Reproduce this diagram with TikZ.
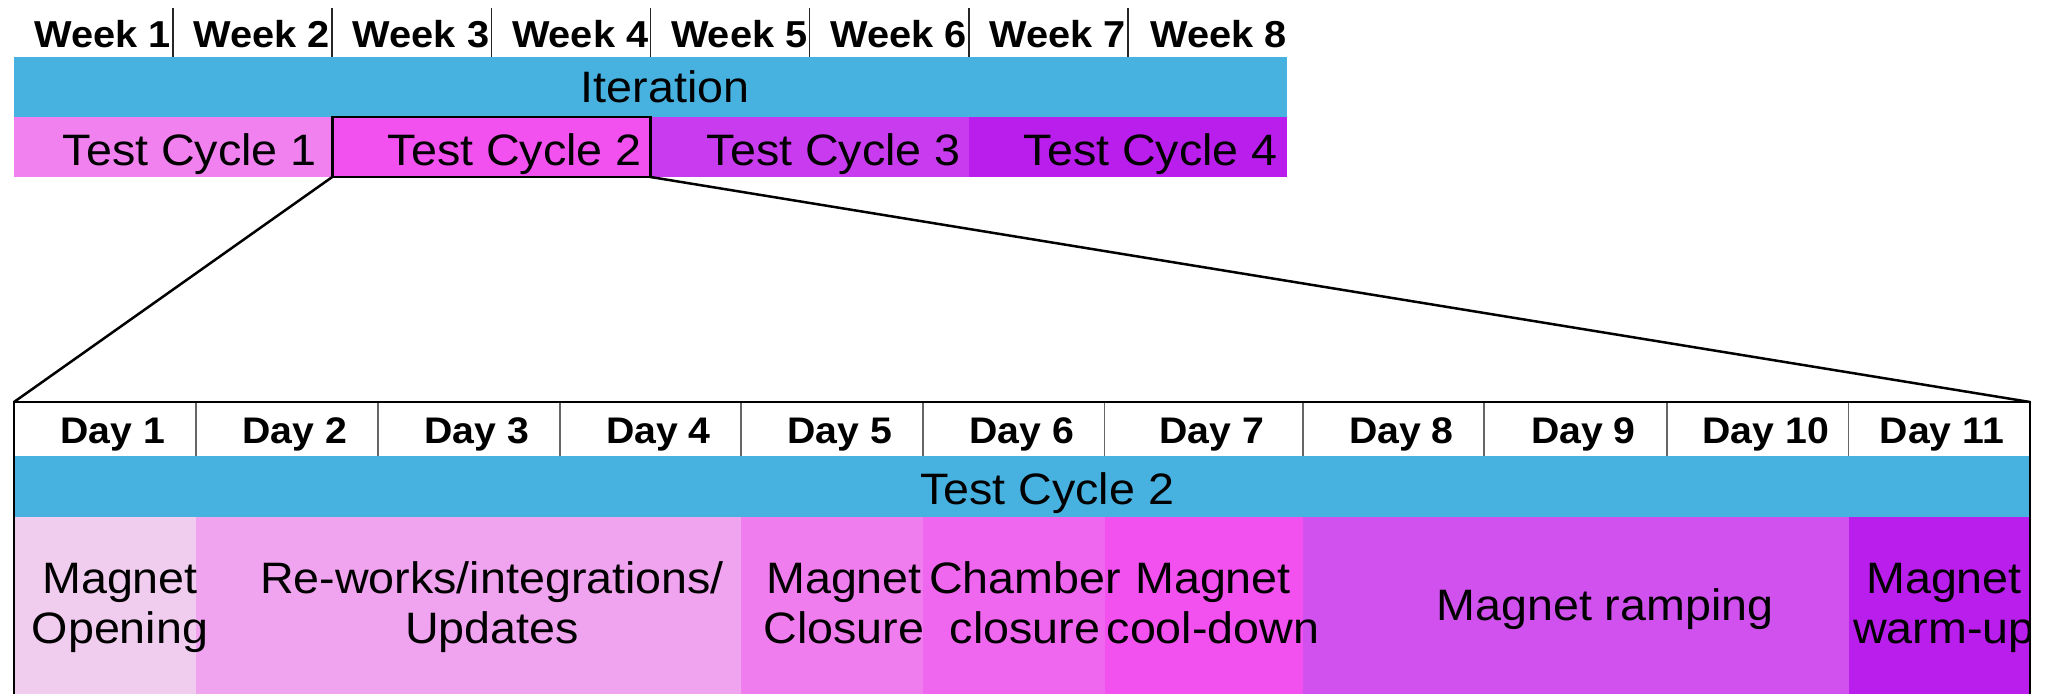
\documentclass[tikz,border=0pt]{standalone}
\usepackage{fontspec}
\setmainfont{Liberation Sans}[FakeStretch=1.06]
\definecolor{iterblue}{HTML}{47B2E0}
\definecolor{tcone}{HTML}{F081EF}
\definecolor{tctwo}{HTML}{F250EF}
\definecolor{tcthree}{HTML}{C93BEE}
\definecolor{tcfour}{HTML}{B91EEC}
\definecolor{opencol}{HTML}{F0CCEE}
\definecolor{reworkcol}{HTML}{F0A3EE}
\definecolor{closecol}{HTML}{F07DEE}
\definecolor{chambercol}{HTML}{EF66EF}
\definecolor{coolcol}{HTML}{F250EF}
\definecolor{rampcol}{HTML}{D051EE}
\definecolor{warmcol}{HTML}{B91EEC}
\begin{document}
\begin{tikzpicture}[x=1pt,y=-1pt,
  bar/.style={inner sep=0pt, outer sep=0pt, anchor=north west, draw=none},
  wk/.style={font=\fontsize{37.5}{44}\selectfont\bfseries, inner sep=0pt, anchor=base east},
  dy/.style={font=\fontsize{37}{44}\selectfont\bfseries, inner sep=0pt, anchor=base},
  lbl/.style={font=\fontsize{44}{50}\selectfont, inner sep=0pt, anchor=base, align=center},
  lblr/.style={font=\fontsize{44}{50}\selectfont, inner sep=0pt, anchor=base east},
  wdiv/.style={draw=black!85, line width=1.6pt},
  ddiv/.style={draw=black!60, line width=1.3pt},
  frame/.style={draw=black, line width=2.5pt},
  zoomline/.style={draw=black, line width=2.5pt, line cap=round}]
\useasboundingbox (0,0) rectangle (2045,694);

% ---------- top overview ----------
\node[bar, fill=iterblue, minimum width=1273pt, minimum height=60pt] (iter) at (14,57) {};
\node[bar, fill=tcone,   minimum width=318.25pt, minimum height=60pt] (tc1) at (14,117) {};
\node[bar, fill=tctwo,   minimum width=318.25pt, minimum height=60pt] (tc2) at (332.25,117) {};
\node[bar, fill=tcthree, minimum width=318.25pt, minimum height=60pt] (tc3) at (650.5,117) {};
\node[bar, fill=tcfour,  minimum width=318.25pt, minimum height=60pt] (tc4) at (968.75,117) {};
\draw[frame] (tc2.north west) rectangle (tc2.south east);

\foreach \x in {173.1,332.25,491.4,650.5,809.6,968.75,1127.9}
  \draw[wdiv] (\x,8) -- (\x,57);

\node[wk] (w1) at (171.1,47) {Week 1};
\node[wk] (w2) at (330.25,47) {Week 2};
\node[wk] (w3) at (489.4,47) {Week 3};
\node[wk] (w4) at (648.5,47) {Week 4};
\node[wk] (w5) at (807.6,47) {Week 5};
\node[wk] (w6) at (966.75,47) {Week 6};
\node[wk] (w7) at (1125.9,47) {Week 7};
\node[wk] (w8) at (1287,47) {Week 8};

\node[lbl] (iterlbl) at (665,102) {Iteration};
\node[lblr] (tc1lbl) at (317,165) {Test Cycle 1};
\node[lblr] (tc2lbl) at (642,165) {Test Cycle 2};
\node[lblr] (tc3lbl) at (961,165) {Test Cycle 3};
\node[lblr] (tc4lbl) at (1278,165) {Test Cycle 4};

% ---------- detail of test cycle 2 ----------
\node[bar, minimum width=2016pt, minimum height=292pt] (detail) at (14,402) {};
\node[bar, fill=iterblue, minimum width=2016pt, minimum height=61pt] (band) at (14,456) {};
\node[bar, fill=opencol,    minimum width=182pt,   minimum height=177pt] (t1) at (14,517) {};
\node[bar, fill=reworkcol,  minimum width=545pt,   minimum height=177pt] (t2) at (196,517) {};
\node[bar, fill=closecol,   minimum width=182pt,   minimum height=177pt] (t3) at (741,517) {};
\node[bar, fill=chambercol, minimum width=181.5pt, minimum height=177pt] (t4) at (923,517) {};
\node[bar, fill=coolcol,    minimum width=198.5pt, minimum height=177pt] (t5) at (1104.5,517) {};
\node[bar, fill=rampcol,    minimum width=545.5pt, minimum height=177pt] (t6) at (1303,517) {};
\node[bar, fill=warmcol,    minimum width=181.5pt, minimum height=177pt] (t7) at (1848.5,517) {};

\foreach \x in {196,378,560,741,923,1104.5,1303,1484,1667,1848.5}
  \draw[ddiv] (\x,402) -- (\x,456);

\node[dy] (d1) at (113,443) {Day 1};
\node[dy] (d2) at (295,443) {Day 2};
\node[dy] (d3) at (477,443) {Day 3};
\node[dy] (d4) at (658.5,443) {Day 4};
\node[dy] (d5) at (840,443) {Day 5};
\node[dy] (d6) at (1021.75,443) {Day 6};
\node[dy] (d7) at (1211.75,443) {Day 7};
\node[dy] (d8) at (1401.5,443) {Day 8};
\node[dy] (d9) at (1583.5,443) {Day 9};
\node[dy] (d10) at (1765.75,443) {Day 10};
\node[dy] (d11) at (1942,443) {Day 11};

\node[lbl] (bandlbl) at (1047,504) {Test Cycle 2};

\node[lbl] (l1) at (120,643) {Magnet\\Opening};
\node[lbl] (l2) at (492,643) {Re-works/integrations/\\Updates};
\node[lbl] (l3) at (844,643) {Magnet\\Closure};
\node[lbl] (l4) at (1025,643) {Chamber\\closure};
\node[lbl] (l5) at (1213,643) {Magnet\\cool-down};
\node[lbl] (l6) at (1605,620) {Magnet ramping};
\begin{scope}
  \clip (t7.north west) rectangle (t7.south east);
  \node[lbl] (l7) at (1944,643) {Magnet\\warm-up};
\end{scope}

\draw[frame] (detail.south west) -- (detail.north west) -- (detail.north east) -- (detail.south east);

\draw[zoomline] (tc2.south west) -- (detail.north west);
\draw[zoomline] (tc2.south east) -- (detail.north east);
\end{tikzpicture}
\end{document}
